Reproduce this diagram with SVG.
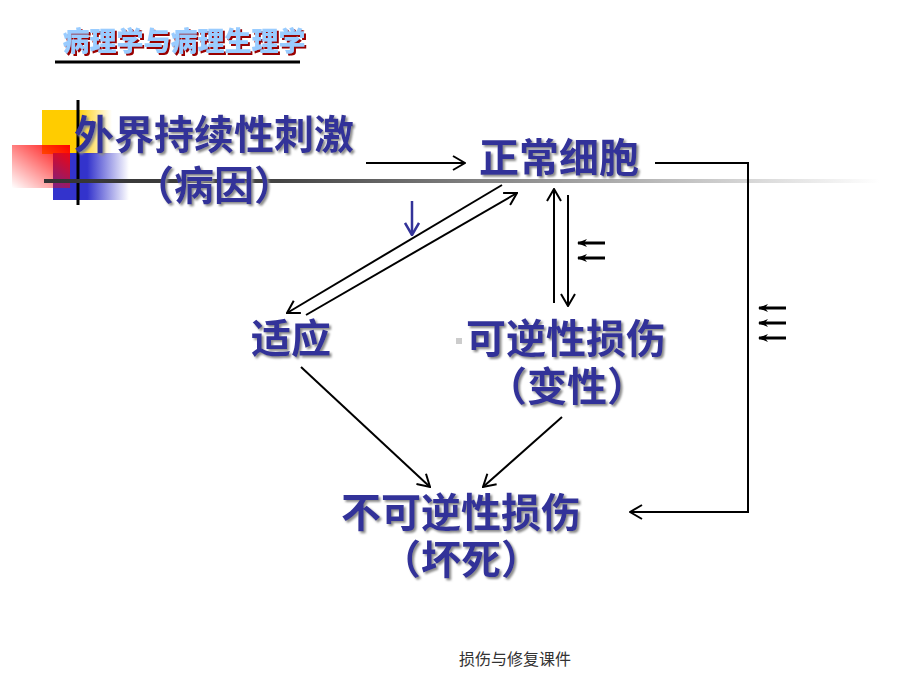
<svg xmlns="http://www.w3.org/2000/svg" width="920" height="690" viewBox="0 0 920 690">
<defs>
<linearGradient id="gY" x1="0" y1="0" x2="1" y2="0"><stop offset="0" stop-color="#FFCC00"/><stop offset="0.5" stop-color="#FFCC00"/><stop offset="1" stop-color="#FFCC00" stop-opacity="0"/></linearGradient>
<linearGradient id="gB" x1="0" y1="0" x2="1" y2="0"><stop offset="0" stop-color="#3333CC"/><stop offset="0.45" stop-color="#3333CC"/><stop offset="1" stop-color="#3333CC" stop-opacity="0"/></linearGradient>
<linearGradient id="gR" x1="1" y1="0" x2="0" y2="1"><stop offset="0" stop-color="#FF0000"/><stop offset="1" stop-color="#FF0000" stop-opacity="0"/></linearGradient>
<linearGradient id="gL" gradientUnits="userSpaceOnUse" x1="44" y1="181" x2="880" y2="181"><stop offset="0" stop-color="#333333"/><stop offset="0.28" stop-color="#444444"/><stop offset="1" stop-color="#FFFFFF"/></linearGradient>
<filter id="ds" x="-10%" y="-20%" width="130%" height="150%"><feDropShadow dx="2" dy="2" stdDeviation="0.8" flood-color="#8A8A8A"/></filter>
<filter id="dr" x="-10%" y="-20%" width="130%" height="150%"><feDropShadow dx="2" dy="2" stdDeviation="0.3" flood-color="#990000"/></filter>
<marker id="ah" viewBox="0 0 14 16" markerWidth="14" markerHeight="16" refX="13" refY="8" orient="auto" markerUnits="userSpaceOnUse"><path d="M1,1 L13,8 L1,15" fill="none" stroke="#000" stroke-width="2"/></marker>
<marker id="ahb" viewBox="0 0 14 16" markerWidth="14" markerHeight="16" refX="13" refY="8" orient="auto" markerUnits="userSpaceOnUse"><path d="M1,1 L13,8 L1,15" fill="none" stroke="#333399" stroke-width="2.5"/></marker>
<marker id="sm" viewBox="0 0 10 8" markerWidth="10" markerHeight="8" refX="9" refY="4" orient="auto" markerUnits="userSpaceOnUse"><path d="M0,0 L10,4 L0,8 L3,4 Z" fill="#000"/></marker>
</defs>
<style>
.t{font-family:"Liberation Sans","Noto Sans CJK SC","Noto Sans CJK JP",sans-serif;font-weight:bold;font-size:40px;fill:#333399;text-anchor:middle;filter:url(#ds)}
.c{fill:none;stroke:#000;stroke-width:2}
.sa{fill:none;stroke:#000;stroke-width:3}
</style>
<g id="decor">
<rect x="42" y="110" width="70" height="44" fill="url(#gY)"/>
<rect x="53" y="153" width="76" height="47" fill="url(#gB)"/>
<rect x="12" y="145" width="58" height="43" fill="url(#gR)"/>
<line x1="78" y1="100" x2="78" y2="205" stroke="#000" stroke-width="3"/>
<line x1="44" y1="181" x2="880" y2="181" stroke="url(#gL)" stroke-width="4"/>
<rect x="456" y="338" width="6" height="6" fill="#CCCCCC"/>
</g>
<g id="title">
<text x="184" y="51" style="font-family:'Liberation Sans','Noto Sans CJK SC',sans-serif;font-weight:900;font-size:27px;text-anchor:middle;filter:url(#dr)" fill="#99CCFF">病理学与病理生理学</text>
<line x1="55" y1="62" x2="300" y2="62" stroke="#000" stroke-width="3"/>
</g>
<g id="n-cause">
<text class="t" x="214" y="149">外界持续性刺激</text>
<text class="t" x="214" y="200">（病因）</text>
</g>
<g id="n-normal">
<text class="t" x="559" y="172">正常细胞</text>
</g>
<g id="n-adapt">
<text class="t" x="291" y="353">适应</text>
</g>
<g id="n-reversible">
<text class="t" x="566" y="353">可逆性损伤</text>
<text class="t" x="567" y="401">（变性）</text>
</g>
<g id="n-irreversible">
<text class="t" x="461" y="527">不可逆性损伤</text>
<text class="t" x="461" y="574">（坏死）</text>
</g>
<g id="connectors">
<line class="c" x1="366" y1="163" x2="465" y2="163" marker-end="url(#ah)"/>
<polyline class="c" points="655,163 748,163 748,512 630,512" marker-end="url(#ah)"/>
<line class="c" x1="502" y1="185" x2="287" y2="313" marker-end="url(#ah)"/>
<line class="c" x1="306" y1="315" x2="517" y2="193" marker-end="url(#ah)"/>
<line class="c" x1="554" y1="303" x2="554" y2="189" marker-end="url(#ah)"/>
<line class="c" x1="568" y1="195" x2="568" y2="306" marker-end="url(#ah)"/>
<line class="c" x1="301" y1="367" x2="430" y2="487" marker-end="url(#ah)"/>
<line class="c" x1="562" y1="417" x2="483" y2="487" marker-end="url(#ah)"/>
<line x1="412" y1="201" x2="412" y2="235" fill="none" stroke="#333399" stroke-width="2.5" marker-end="url(#ahb)"/>
<line class="sa" x1="605" y1="243" x2="578" y2="243" marker-end="url(#sm)"/>
<line class="sa" x1="605" y1="258" x2="578" y2="258" marker-end="url(#sm)"/>
<line class="sa" x1="786" y1="308" x2="759" y2="308" marker-end="url(#sm)"/>
<line class="sa" x1="786" y1="323" x2="759" y2="323" marker-end="url(#sm)"/>
<line class="sa" x1="786" y1="338" x2="759" y2="338" marker-end="url(#sm)"/>
</g>
<g id="footer">
<text x="515" y="665" style="font-family:'Liberation Sans','Noto Sans CJK SC',sans-serif;font-size:16px;text-anchor:middle" fill="#333333">损伤与修复课件</text>
</g>
</svg>
